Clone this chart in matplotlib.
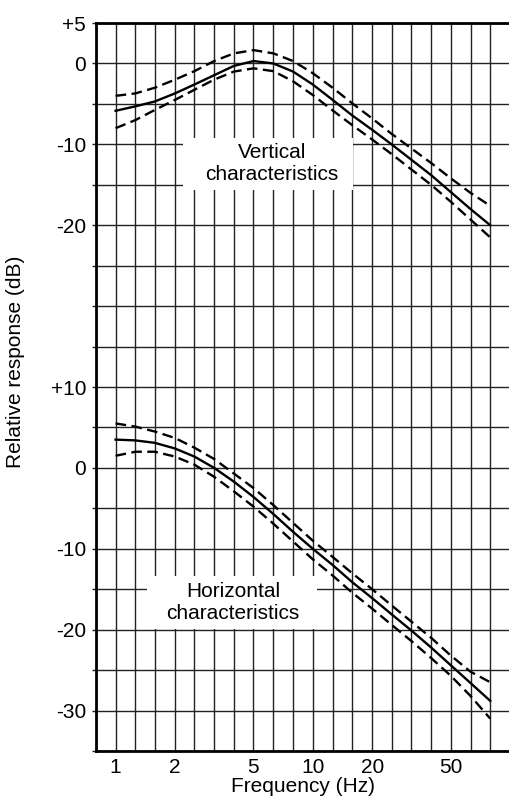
import numpy as np
import matplotlib
matplotlib.use("Agg")
import matplotlib.pyplot as plt
from matplotlib.patches import Rectangle
from matplotlib.ticker import NullFormatter

plt.rcParams['font.family'] = ['Liberation Sans', 'DejaVu Sans']

# frequencies read at each vertical grid line (Hz)
freq = [1, 1.26, 1.58, 2, 2.51, 3.16, 3.98, 5.01, 6.31, 7.94,
        10, 12.6, 15.8, 20, 25.1, 31.6, 39.8, 50.1, 63.1, 79.4]

# vertical characteristics (dB)
vert_mid = [-5.85, -5.3, -4.7, -3.7, -2.6, -1.45, -0.3, 0.3, 0.0, -1.0,
            -2.6, -4.5, -6.4, -8.2, -10.0, -11.9, -13.8, -15.9, -18.0, -20.0]
vert_up = [-4.0, -3.7, -3.0, -2.0, -0.95, 0.3, 1.25, 1.65, 1.25, 0.3,
           -1.2, -3.0, -4.9, -6.8, -8.7, -10.5, -12.3, -14.2, -16.0, -17.6]
vert_lo = [-8.0, -7.0, -5.75, -4.5, -3.25, -2.0, -1.0, -0.6, -0.95, -2.2,
           -3.9, -5.8, -7.6, -9.4, -11.2, -13.1, -15.0, -17.1, -19.3, -21.5]

# horizontal characteristics (dB)
hor_mid = [3.5, 3.4, 3.1, 2.4, 1.4, 0.0, -1.7, -3.6, -5.7, -7.9,
           -10.0, -12.0, -14.1, -16.1, -18.1, -20.1, -22.2, -24.4, -26.6, -28.8]
hor_up = [5.5, 5.1, 4.5, 3.7, 2.5, 1.1, -0.7, -2.5, -4.6, -6.8,
          -9.0, -11.0, -13.0, -15.0, -17.0, -19.0, -21.0, -23.2, -25.2, -26.5]
hor_lo = [1.5, 2.0, 2.0, 1.4, 0.4, -1.1, -2.9, -4.8, -6.9, -9.1,
          -11.3, -13.3, -15.4, -17.4, -19.4, -21.4, -23.5, -25.7, -28.2, -31.0]

vert_offset = 50  # upper scale sits 50 dB above the lower one

ytick_pos = [55, 50, 40, 30, 10, 0, -10, -20, -30]
ytick_lab = ['+5', '0', '-10', '-20', '+10', '0', '-10', '-20', '-30']
xtick_pos = [1, 2, 5, 10, 20, 50]
xtick_lab = ['1', '2', '5', '10', '20', '50']

fs = 15

fig = plt.figure(figsize=(5.1, 7.97), dpi=100)
ax = fig.add_axes([0.188, 0.0577, 0.812, 0.9134])
ax.set_xscale('log')
ax.set_xlim(10 ** -0.1, 10 ** 2.0)
ax.set_ylim(-35, 55)

# grid every 0.1 decade and every 5 dB (major ticks carry their own line)
ax.set_xticks([10 ** (k / 10) for k in range(-1, 20)
               if k not in (0, 3, 7, 10, 13, 17)], minor=True)
ax.set_yticks(np.arange(-35, 56, 5), minor=True)
ax.xaxis.set_minor_formatter(NullFormatter())
ax.grid(which='both', color='#222222', lw=1.0)
ax.set_axisbelow(True)

ax.set_xticks(xtick_pos)
ax.set_xticklabels(xtick_lab)
ax.set_yticks(ytick_pos)
ax.set_yticklabels(ytick_lab)
ax.tick_params(axis='x', which='both', length=0, labelsize=fs, pad=5)
ax.tick_params(axis='y', which='both', length=3, width=1, color='#222222',
               labelsize=fs, pad=4)

dash = (0, (4.5, 2.3))
ax.plot(freq, np.array(vert_mid) + vert_offset, color='black', lw=1.7)
ax.plot(freq, np.array(vert_up) + vert_offset, color='black', lw=1.7, ls=dash)
ax.plot(freq, np.array(vert_lo) + vert_offset, color='black', lw=1.7, ls=dash)
ax.plot(freq, hor_mid, color='black', lw=1.7)
ax.plot(freq, hor_up, color='black', lw=1.7, ls=dash)
ax.plot(freq, hor_lo, color='black', lw=1.7, ls=dash)

# white label boxes over the grid
ax.add_patch(Rectangle((2.19, 34.35), 15.96 - 2.19, 40.8 - 34.35,
                       facecolor='white', edgecolor='none', zorder=1.5))
ax.add_patch(Rectangle((1.45, -19.9), 10.48 - 1.45, 6.5,
                       facecolor='white', edgecolor='none', zorder=1.5))
ax.text(6.19, 37.6, 'Vertical\ncharacteristics', ha='center', va='center',
        fontsize=fs, linespacing=1.2, zorder=3)
ax.text(3.93, -16.6, 'Horizontal\ncharacteristics', ha='center', va='center',
        fontsize=fs, linespacing=1.2, zorder=3)

for s in ['left', 'bottom', 'top']:
    ax.spines[s].set_linewidth(2)
ax.spines['right'].set_visible(False)

ax.set_xlabel('Frequency (Hz)', fontsize=fs, labelpad=0)
ax.set_ylabel('Relative response (dB)', fontsize=fs)
ax.yaxis.set_label_coords(-0.172, 0.535)

fig.savefig('out.png', dpi=100, facecolor='white')
